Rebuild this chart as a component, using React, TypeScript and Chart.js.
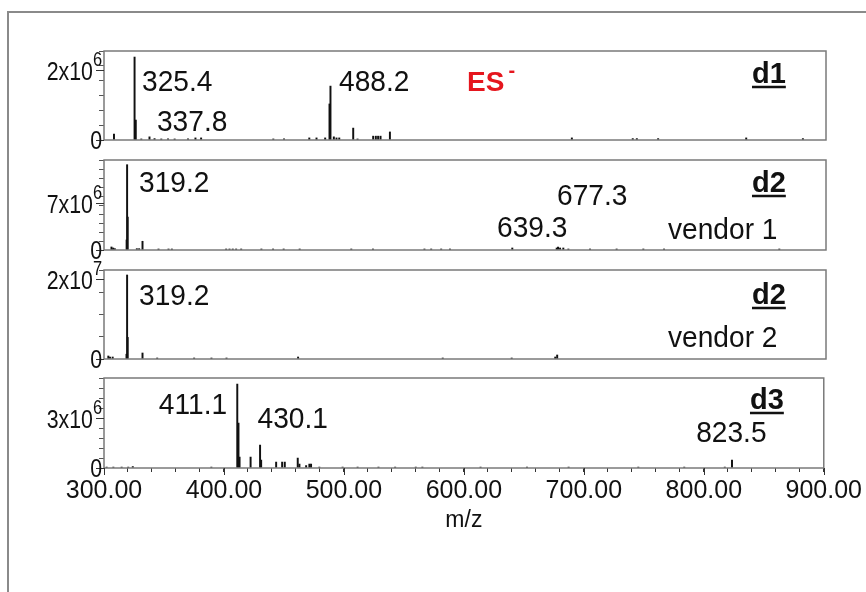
import React, { useEffect, useRef } from "react";
import { Chart, registerables } from "chart.js";

Chart.register(...registerables);

// ---------------- DATA ----------------
const MZ_MIN = 300;
const MZ_MAX = 900;

// d1 spectrum
const d1Mz = [308.3, 325.4, 326.4, 331.0, 337.8, 342.0, 347.6, 353.2, 358.7, 369.8, 376.0, 380.7, 440.7, 449.6, 470.6, 476.6, 483.8, 487.4, 488.2, 491.0, 493.2, 495.5, 507.1, 510.7, 523.7, 525.9, 527.8, 529.8, 537.6, 688.8, 739.4, 742.8, 760.5, 833.7, 880.8];
const d1Int = [1.7e5, 2.37e6, 5.7e5, 3e4, 9e4, 4e4, 3e4, 3e4, 3e4, 3e4, 6e4, 6e4, 3e4, 3e4, 6e4, 6e4, 6e4, 1.03e6, 1.54e6, 9e4, 6e4, 6e4, 3.4e5, 3e4, 1.1e5, 1.1e5, 1.1e5, 1.1e5, 2.3e5, 6e4, 4e4, 4e4, 4e4, 6e4, 4e4];

// d2 vendor 1 spectrum
const d2v1Mz = [306.2, 307.6, 309.0, 318.8, 319.2, 319.7, 327.3, 329.2, 332.0, 345.3, 353.6, 356.4, 401.5, 404.3, 407.0, 409.8, 414.0, 430.8, 440.5, 449.3, 462.6, 505.5, 523.5, 566.3, 571.9, 580.2, 587.5, 639.3, 676.2, 677.3, 679.0, 681.7, 685.9, 703.9, 726.0, 748.2, 765.4, 861.2];
const d2v1Int = [4.5e5, 3e5, 2e5, 1.5e6, 1.27e7, 4.9e6, 2e5, 2e5, 1.3e6, 1.5e5, 1.5e5, 1.5e5, 1.5e5, 1.5e5, 1.5e5, 1.5e5, 1.5e5, 1.5e5, 1.5e5, 1.5e5, 1.5e5, 1.5e5, 1.5e5, 1.5e5, 1.5e5, 1.5e5, 1.5e5, 3e5, 3e5, 4.5e5, 3e5, 3e5, 1.5e5, 1.5e5, 1.5e5, 1.5e5, 1.5e5, 1.5e5];

// d2 vendor 2 spectrum
const d2v2Mz = [303.6, 305.0, 307.2, 318.7, 319.2, 319.7, 332.0, 344.2, 374.9, 389.3, 401.8, 461.3, 581.5, 638.8, 675.0, 676.6];
const d2v2Int = [7.5e5, 5e5, 5e5, 1.2e6, 2.1e7, 5.4e6, 1.5e6, 2.5e5, 2.5e5, 2.5e5, 2.5e5, 5e5, 2.5e5, 2.5e5, 5e5, 1e6];

// d3 spectrum
const d3Mz = [302.2, 307.8, 314.7, 320.2, 324.0, 389.5, 411.1, 412.1, 413.0, 422.2, 430.1, 431.0, 443.5, 448.5, 450.7, 461.5, 462.9, 468.5, 471.2, 472.6, 479.5, 498.9, 511.4, 528.8, 542.7, 559.9, 565.4, 613.9, 652.6, 687.3, 745.4, 783.7, 817.5, 823.5];
const d3Int = [6e4, 6e4, 6e4, 6e4, 9e4, 6e4, 5.04e6, 2.7e6, 6.6e5, 6.6e5, 1.38e6, 4.8e5, 3.6e5, 3.6e5, 3.6e5, 6e5, 2.4e5, 1.5e5, 2.4e5, 2.4e5, 6e4, 6e4, 6e4, 6e4, 6e4, 6e4, 6e4, 6e4, 6e4, 6e4, 6e4, 6e4, 6e4, 4.8e5];

// y axes: maximum, minor step, labelled tick (mantissa x 10^exponent)
const yMaxes = [2.543e6, 1.34e7, 2.225e7, 5.4e6];
const ySteps = [4e5, 1.4e6, 5e6, 6e5];
const yMajors = [2e6, 7e6, 2e7, 3e6];
const yMantissas = ["2", "7", "2", "3"];
const yExponents = ["6", "6", "7", "6"];

// peak labels: text, left m/z, vertical centre intensity
const d1Labels = ["325.4", "337.8", "488.2"];
const d1LabelMz = [331.6, 344.0, 495.3];
const d1LabelInt = [1.686e6, 5.43e5, 1.686e6];

const d2v1Labels = ["319.2", "677.3", "639.3", "vendor 1"];
const d2v1LabelMz = [329.1, 676.5, 626.6, 768.7];
const d2v1LabelInt = [1.012e7, 8.19e6, 3.42e6, 3.13e6];

const d2v2Labels = ["319.2", "vendor 2"];
const d2v2LabelMz = [329.1, 768.7];
const d2v2LabelInt = [1.6e7, 5.5e6];

const d3Labels = ["411.1", "430.1", "823.5"];
const d3LabelMz = [345.7, 428.0, 793.6];
const d3LabelInt = [3.84e6, 3.0e6, 2.16e6];

// sample tags (bold, underlined)
const tagTexts = ["d1", "d2", "d2", "d3"];
const tagMz = [838.5, 838.5, 838.5, 838.5];
const tagInt = [1.914e6, 1.012e7, 1.625e7, 4.14e6];

// ionisation mode tag on first panel
const modeText = "ES";
const modeSup = "-";
const modeMz = 601.7;
const modeInt = 1.686e6;

const X_TITLE = "m/z";

// ---------------- LAYOUT / STYLE ----------------
const PLOT_TOPS = [51, 160, 270, 378];
const PLOT_BOTTOMS = [140, 250, 359, 468];
const PLOT_LEFT = 104;
const PLOT_RIGHT = 826;
const W = 866;
const PAD_TOP = 30;
const PAD_BOTTOM = 25;
const X_AXIS_H = 66;

const SANS = '"Liberation Sans", Arial, Helvetica, sans-serif';
const INK = "#111";

type PanelDef = {
  mz: number[];
  inten: number[];
  labels: string[];
  labelMz: number[];
  labelInt: number[];
};

const panels: PanelDef[] = [
  { mz: d1Mz, inten: d1Int, labels: d1Labels, labelMz: d1LabelMz, labelInt: d1LabelInt },
  { mz: d2v1Mz, inten: d2v1Int, labels: d2v1Labels, labelMz: d2v1LabelMz, labelInt: d2v1LabelInt },
  { mz: d2v2Mz, inten: d2v2Int, labels: d2v2Labels, labelMz: d2v2LabelMz, labelInt: d2v2LabelInt },
  { mz: d3Mz, inten: d3Int, labels: d3Labels, labelMz: d3LabelMz, labelInt: d3LabelInt },
];

// draws text with left edge x and vertical (digit) centre yc; sx = horizontal squeeze
function textAt(
  ctx: CanvasRenderingContext2D,
  text: string,
  x: number,
  yc: number,
  size: number,
  weight: string,
  color: string,
  sx = 1
) {
  ctx.save();
  ctx.font = `${weight} ${size}px ${SANS}`;
  ctx.fillStyle = color;
  ctx.textAlign = "left";
  ctx.textBaseline = "alphabetic";
  ctx.translate(x, yc + 0.358 * size);
  ctx.scale(sx, 1);
  ctx.fillText(text, 0, 0);
  const w = ctx.measureText(text).width * sx;
  ctx.restore();
  return w;
}

function measure(ctx: CanvasRenderingContext2D, text: string, size: number, weight: string, sx = 1) {
  ctx.save();
  ctx.font = `${weight} ${size}px ${SANS}`;
  const w = ctx.measureText(text).width * sx;
  ctx.restore();
  return w;
}

function makePlugin(idx: number) {
  const p = panels[idx];
  return {
    id: "panelDecor" + idx,
    afterDatasetsDraw(chart: any) {
      const ctx: CanvasRenderingContext2D = chart.ctx;
      const { left, top, right, bottom } = chart.chartArea;
      const xs = chart.scales.x;
      const ys = chart.scales.y;
      ctx.save();
      // box
      ctx.strokeStyle = "#7a7a7a";
      ctx.lineWidth = 1.5;
      ctx.strokeRect(left, top, right - left, bottom - top);

      // peak labels
      p.labels.forEach((t, i) => {
        textAt(ctx, t, xs.getPixelForValue(p.labelMz[i]), ys.getPixelForValue(p.labelInt[i]), 29, "normal", INK, 0.97);
      });

      // tag
      const tx = xs.getPixelForValue(tagMz[idx]);
      const ty = ys.getPixelForValue(tagInt[idx]);
      const tw = textAt(ctx, tagTexts[idx], tx, ty, 29, "bold", INK, 1.0);
      ctx.strokeStyle = INK;
      ctx.lineWidth = 2.5;
      ctx.beginPath();
      ctx.moveTo(tx, ty + 14);
      ctx.lineTo(tx + tw, ty + 14);
      ctx.stroke();

      if (idx === 0) {
        const mx = xs.getPixelForValue(modeMz);
        const my = ys.getPixelForValue(modeInt);
        const w = textAt(ctx, modeText, mx, my, 28, "bold", "#e5161e");
        textAt(ctx, modeSup, mx + w + 4, my - 11, 20, "bold", "#e5161e");
      }

      // y labels and longer labelled ticks
      const zeroY = ys.getPixelForValue(0);
      const majY = ys.getPixelForValue(yMajors[idx]);
      ctx.strokeStyle = "#333";
      ctx.lineWidth = 1;
      [zeroY, majY].forEach((y) => {
        ctx.beginPath();
        ctx.moveTo(left - 8, Math.round(y) + 0.5);
        ctx.lineTo(left, Math.round(y) + 0.5);
        ctx.stroke();
      });
      const SX = 0.82;
      const rx = left - 2;
      const zw = measure(ctx, "0", 26, "normal", SX);
      textAt(ctx, "0", rx - zw, zeroY, 26, "normal", INK, SX);
      const main = yMantissas[idx] + "x10";
      const mw = measure(ctx, main, 26, "normal", SX);
      const ew = measure(ctx, yExponents[idx], 20, "normal", SX);
      const sx0 = rx - mw - ew;
      textAt(ctx, main, sx0, majY + 1, 26, "normal", INK, SX);
      textAt(ctx, yExponents[idx], sx0 + mw, majY - 11, 20, "normal", INK, SX);

      // longer major x ticks on the bottom axis
      if (idx === 3) {
        ctx.strokeStyle = "#333";
        ctx.lineWidth = 1;
        for (let v = MZ_MIN; v <= MZ_MAX; v += 100) {
          const x = Math.round(xs.getPixelForValue(v)) + 0.5;
          ctx.beginPath();
          ctx.moveTo(x, bottom);
          ctx.lineTo(x, bottom + 7);
          ctx.stroke();
        }
      }
      ctx.restore();
    },
  };
}

function SpectrumPanel({ idx }: { idx: number }) {
  const ref = useRef<HTMLCanvasElement>(null);
  const isLast = idx === panels.length - 1;
  const plotTop = PLOT_TOPS[idx];
  const plotH = PLOT_BOTTOMS[idx] - plotTop;
  const canvasH = PAD_TOP + plotH + (isLast ? X_AXIS_H : PAD_BOTTOM);

  useEffect(() => {
    if (!ref.current) return;
    const p = panels[idx];
    const chart = new Chart(ref.current, {
      type: "bar",
      data: {
        datasets: [
          {
            data: p.mz.map((x, i) => ({ x, y: p.inten[i] })),
            backgroundColor: INK,
            borderWidth: 0,
            barThickness: 1.3,
          } as any,
        ],
      },
      options: {
        responsive: false,
        animation: false,
        devicePixelRatio: 1,
        layout: {
          padding: { left: 0, right: W - PLOT_RIGHT, top: PAD_TOP, bottom: isLast ? 0 : PAD_BOTTOM },
        },
        plugins: {
          legend: { display: false },
          tooltip: { enabled: false },
          title: { display: false },
        },
        scales: {
          x: {
            type: "linear",
            min: MZ_MIN,
            max: MZ_MAX,
            offset: false,
            display: isLast,
            grid: { offset: false, drawOnChartArea: false, drawTicks: true, tickLength: 4, color: "#333", lineWidth: 1 },
            border: { display: false },
            ticks: {
              stepSize: 20,
              autoSkip: false,
              maxRotation: 0,
              minRotation: 0,
              padding: 4,
              color: INK,
              font: { family: SANS, size: 25 },
              callback: (v: any) => (Number(v) % 100 === 0 ? Number(v).toFixed(2) : ""),
            },
            title: { display: true, text: X_TITLE, color: INK, font: { family: SANS, size: 23 }, padding: 0 },
            afterFit: (s: any) => {
              if (isLast) s.height = X_AXIS_H;
            },
          },
          y: {
            type: "linear",
            min: 0,
            max: yMaxes[idx],
            grid: { drawOnChartArea: false, drawTicks: true, tickLength: 5, color: "#555", lineWidth: 1 },
            border: { display: false },
            ticks: { display: false, stepSize: ySteps[idx], includeBounds: false },
            afterFit: (s: any) => {
              s.width = PLOT_LEFT;
            },
          },
        },
      } as any,
      plugins: [makePlugin(idx)],
    });
    return () => chart.destroy();
  }, [idx]);

  return (
    <canvas
      ref={ref}
      width={W}
      height={canvasH}
      style={{ position: "absolute", left: 0, top: plotTop - PAD_TOP, width: W, height: canvasH }}
    />
  );
}

export default function App() {
  return (
    <div
      style={{
        position: "fixed",
        left: 0,
        top: 0,
        width: W,
        height: 592,
        overflow: "hidden",
        background: "#fff",
      }}
    >
      <div
        style={{
          position: "absolute",
          left: 7,
          top: 11,
          width: 950,
          height: 700,
          border: "2px solid #8a8a8a",
          boxSizing: "border-box",
        }}
      />
      {panels.map((_, i) => (
        <SpectrumPanel key={i} idx={i} />
      ))}
    </div>
  );
}
